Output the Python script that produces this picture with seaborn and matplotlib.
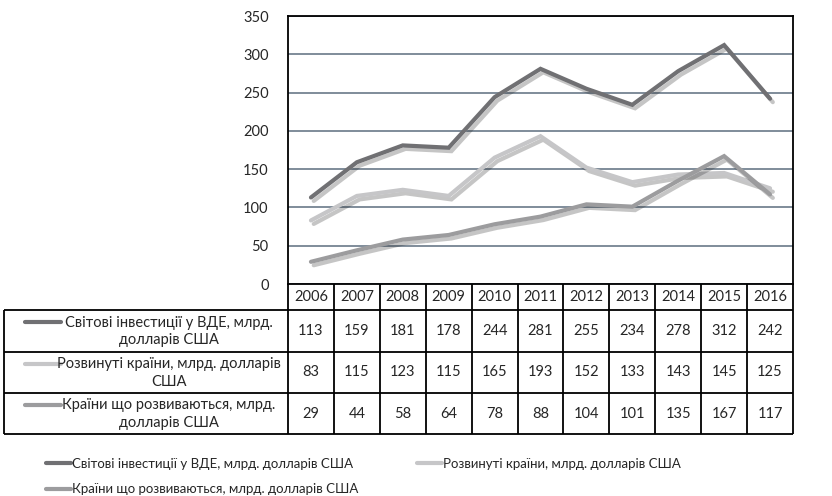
import numpy as np
import pandas as pd
import matplotlib
matplotlib.use('Agg')
import matplotlib.pyplot as plt
import seaborn as sns
from matplotlib import patheffects as pe
from matplotlib.lines import Line2D

# --- DANE ---
years = ['2006', '2007', '2008', '2009', '2010', '2011', '2012', '2013', '2014', '2015', '2016']
world = [113, 159, 181, 178, 244, 281, 255, 234, 278, 312, 242]
developed = [83, 115, 123, 115, 165, 193, 152, 133, 143, 145, 125]
developing = [29, 44, 58, 64, 78, 88, 104, 101, 135, 167, 117]

series_names = ['Світові інвестиції у ВДЕ, млрд. долларів США',
                'Розвинуті країни, млрд. долларів США',
                'Країни що розвиваються, млрд. долларів США']
table_labels = ['Світові інвестиції у ВДЕ, млрд.\nдолларів США',
                'Розвинуті країни, млрд. долларів\nСША',
                'Країни що розвиваються, млрд.\nдолларів США']
colors = ['#707073', '#c6c6c8', '#9c9c9e']

sns.set_theme(style='white')
plt.rcParams['font.family'] = ['Lato', 'DejaVu Sans']

W, H = 832, 496
fig = plt.figure(figsize=(W / 100, H / 100), dpi=100)


def px_axes(x0, y0, x1, y1):
    return fig.add_axes([x0 / W, 1 - y1 / H, (x1 - x0) / W, (y1 - y0) / H])


# --- wykres liniowy ---
ax = px_axes(288, 16, 793, 284)
all_values = [world, developed, developing]
df = pd.concat([
    pd.DataFrame({'pos': np.arange(len(years)), 'value': vals, 'series': name})
    for name, vals in zip(series_names, all_values)
])
sns.lineplot(data=df, x='pos', y='value', hue='series', hue_order=series_names,
             palette=dict(zip(series_names, colors)), linewidth=3.0,
             legend=False, ax=ax, sort=False)
for line in ax.lines:
    line.set_solid_joinstyle('miter')
    line.set_path_effects([pe.SimpleLineShadow(offset=(2, -2.5), alpha=0.25, shadow_color='k'),
                           pe.Normal()])

ax.set_xlim(-0.5, len(years) - 0.5)
ax.set_ylim(0, 350)
ax.set_yticks(range(0, 351, 50))
ax.set_xticks([])
ax.set_xlabel('')
ax.set_ylabel('')
ax.yaxis.grid(True, color='#5d6d7e', lw=1.1)
ax.set_axisbelow(True)
for s in ax.spines.values():
    s.set_visible(True)
    s.set_color('black')
    s.set_linewidth(1.3)
ax.tick_params(axis='y', length=0, pad=14, labelsize=10.5)

# --- tabela danych ---
col_w = 505 / len(years)
label_left = -0.5 - 284 / col_w
tax = px_axes(4, 284, 793, 434)
tax.set_xlim(label_left, len(years) - 0.5)
tax.set_ylim(150, 0)
tax.axis('off')


def X(px):
    return label_left + (px - 4) / col_w


rows = [0, 26, 68, 109, 150]
lw = 1.3
tax.hlines(rows[1:], label_left, len(years) - 0.5, color='black', lw=lw, clip_on=False)
tax.vlines(np.arange(len(years) + 1) - 0.5, 0, 150, color='black', lw=lw, clip_on=False)
tax.vlines([label_left], rows[1], 150, color='black', lw=lw, clip_on=False)

for i, y in enumerate(years):
    tax.text(i, 13, y, ha='center', va='center', fontsize=10.5)

for r, (lab, vals, c) in enumerate(zip(table_labels, all_values, colors)):
    top, bot = rows[r + 1], rows[r + 2]
    mid = (top + bot) / 2
    for i, v in enumerate(vals):
        tax.text(i, mid, str(v), ha='center', va='center', fontsize=10.5)
    tax.plot([X(25), X(61)], [mid - 9, mid - 9], color=c, lw=3.0, solid_capstyle='round')
    tax.text(X(169), mid + 0.5, lab, ha='center', va='center', multialignment='center',
             fontsize=10.5, linespacing=1.35)

# --- legenda (kolejnosc wierszami przy ncol=2) ---
order = [0, 2, 1]
handles = [Line2D([0], [0], color=colors[k], lw=3.0) for k in order]
labels = [series_names[k] for k in order]
fig.legend(handles, labels, loc='upper left', bbox_to_anchor=(46 / W, 1 - 458 / H),
           ncol=2, frameon=False, fontsize=9.5, handlelength=1.9, handletextpad=0.1,
           columnspacing=4.4, labelspacing=1.0, borderaxespad=0, borderpad=0)

fig.savefig('out.png', dpi=100)
